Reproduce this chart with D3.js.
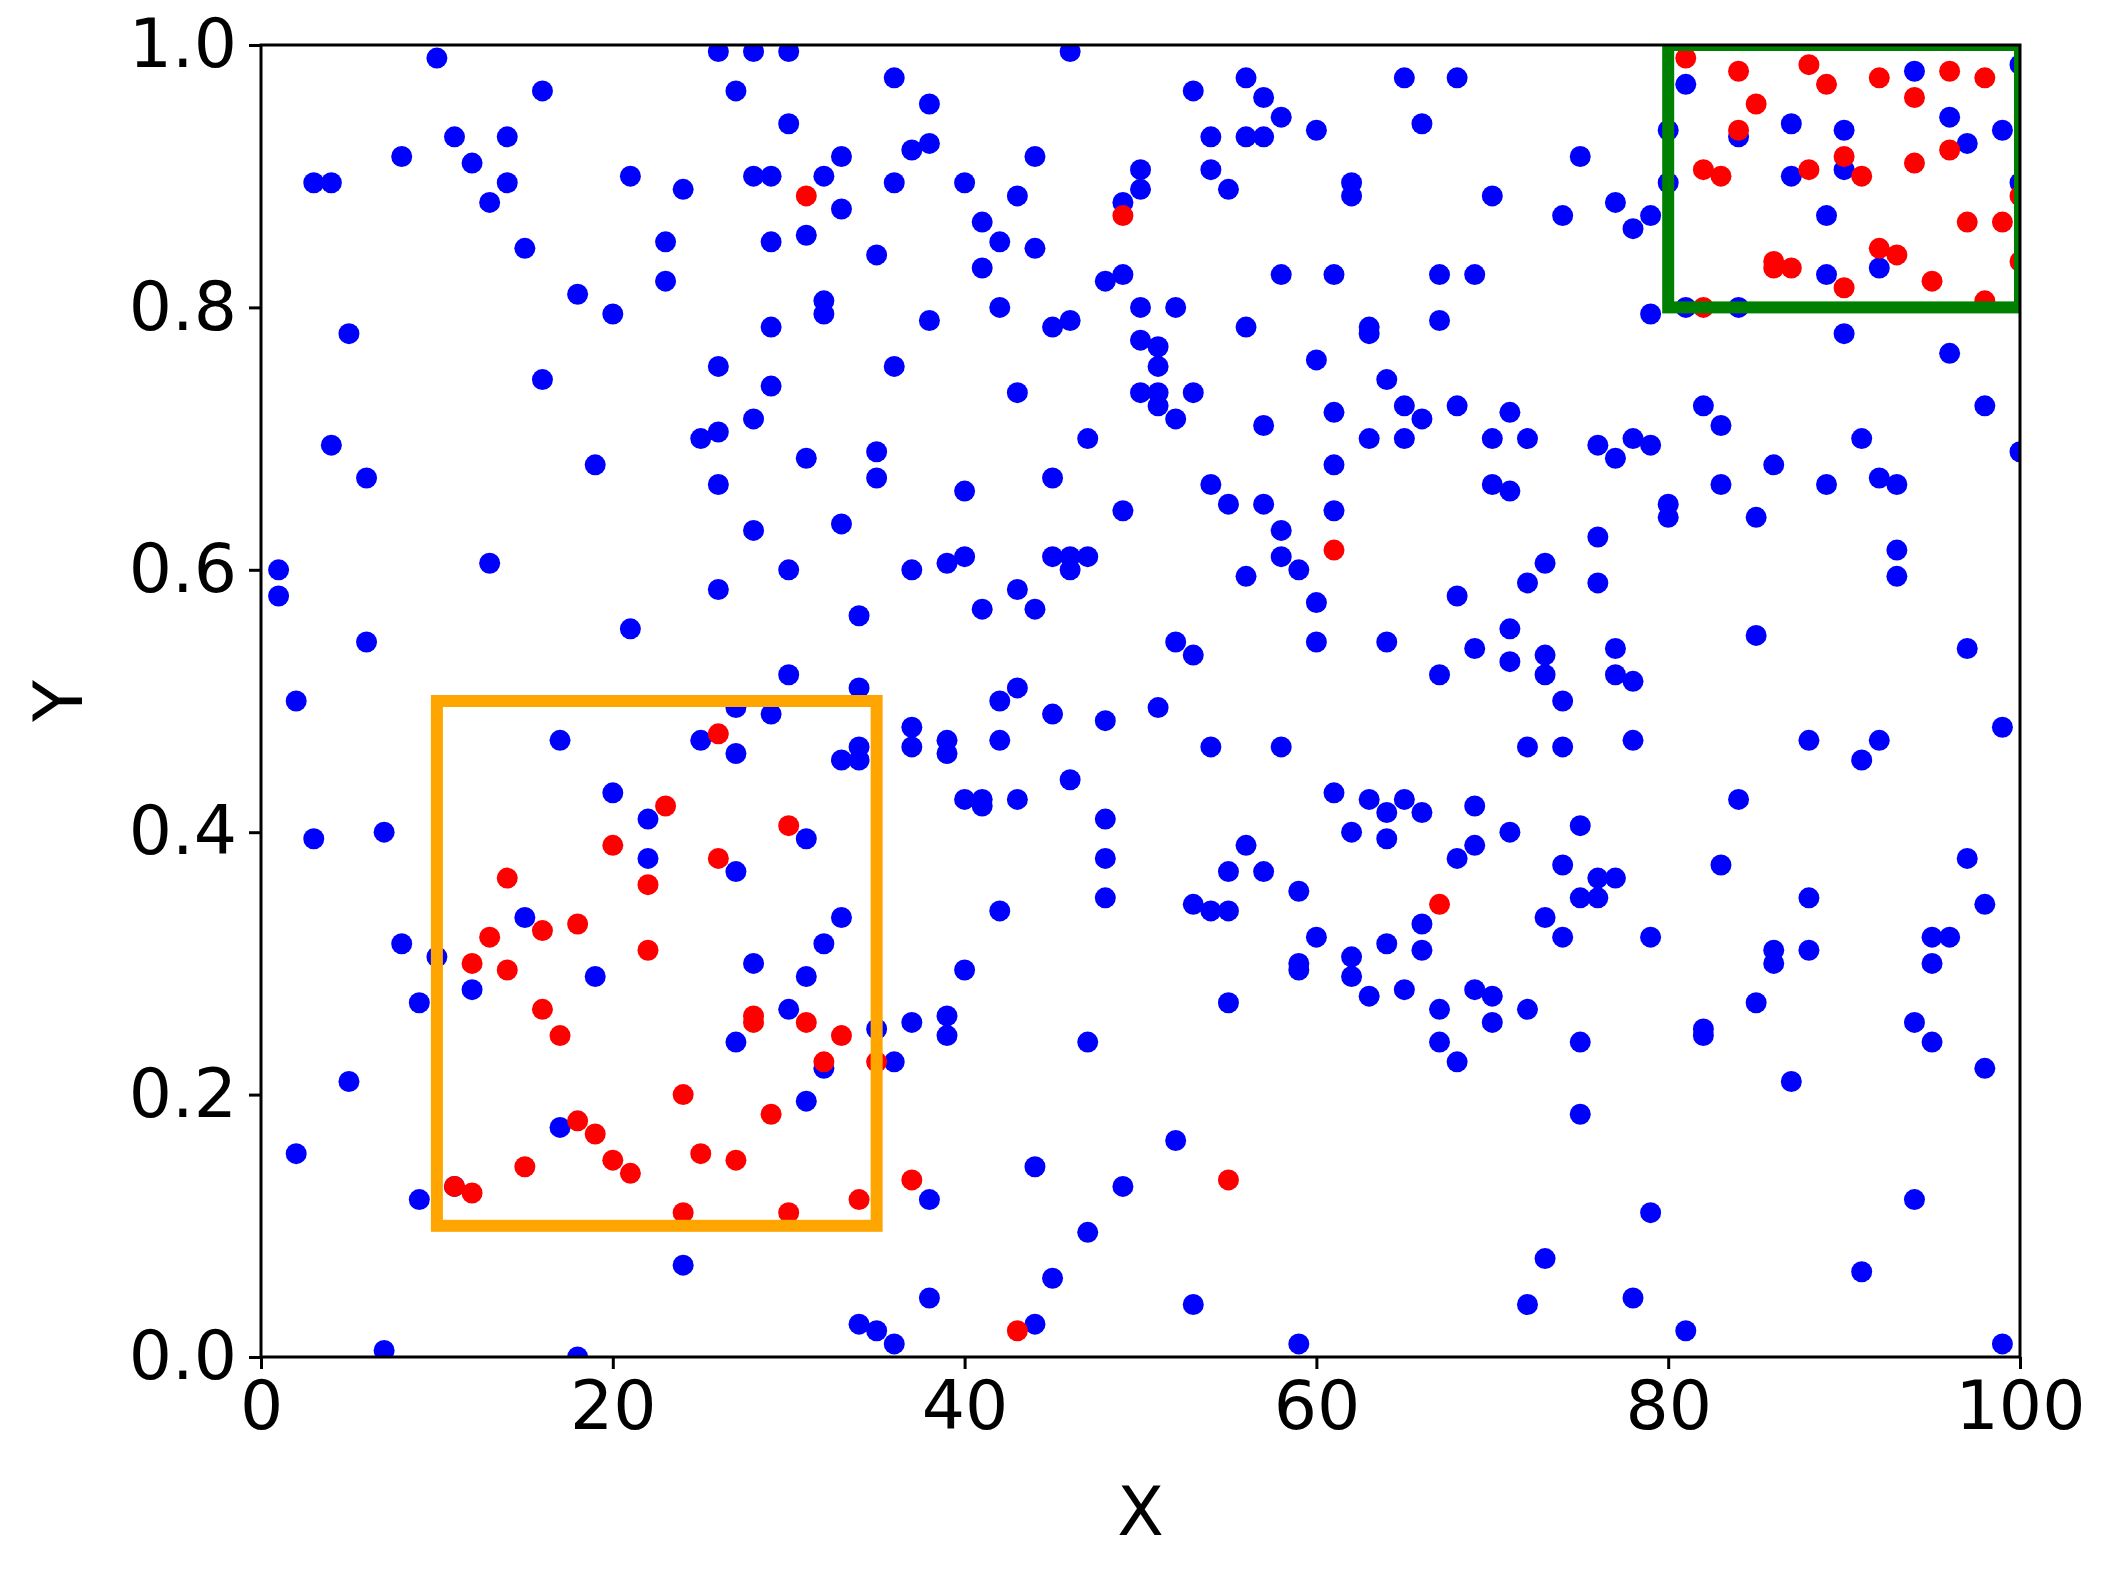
<!DOCTYPE html>
<html>
<head>
<meta charset="UTF-8">
<script src="https://cdn.jsdelivr.net/npm/d3@7"></script>
<style>body{margin:0;background:#fff}text{font-family:"DejaVu Sans",sans-serif}</style>
</head>
<body>
<script>
// blue points: [x, [y...]]
var blueCols = [
[1,[0.60,0.58]],[2,[0.50,0.155]],[3,[0.895,0.395]],[4,[0.895,0.695]],[5,[0.78,0.21]],
[6,[0.67,0.545]],[7,[0.40,0.005]],[8,[0.915,0.315]],[9,[0.27,0.12]],[10,[0.99,0.305]],
[11,[0.93,0.13]],[12,[0.91,0.28]],[13,[0.88,0.605]],[14,[0.93,0.895]],[15,[0.845,0.335]],
[16,[0.965,0.745]],[17,[0.47,0.175]],[18,[0.81,0.0]],[19,[0.68,0.29]],[20,[0.795,0.43]],
[21,[0.90,0.555]],[22,[0.41,0.38]],[23,[0.85,0.82]],[24,[0.89,0.07]],[25,[0.70,0.47]],
[26,[0.995,0.755,0.705,0.665,0.585]],[27,[0.965,0.46,0.37,0.24,0.495]],
[28,[0.995,0.90,0.715,0.63,0.30]],[29,[0.90,0.85,0.785,0.74,0.49]],
[30,[0.995,0.94,0.60,0.52,0.265]],[31,[0.855,0.685,0.395,0.29,0.195]],
[32,[0.90,0.805,0.795,0.315,0.22]],[33,[0.915,0.875,0.635,0.455,0.335]],
[34,[0.51,0.565,0.465,0.455,0.025]],[35,[0.84,0.69,0.67,0.25,0.02]],
[36,[0.975,0.895,0.755,0.225,0.01]],[37,[0.92,0.60,0.48,0.465,0.255]],
[38,[0.955,0.925,0.79,0.12,0.045]],[39,[0.605,0.47,0.46,0.26,0.245]],
[40,[0.895,0.66,0.61,0.425,0.295]],[41,[0.865,0.83,0.57,0.425,0.42]],
[42,[0.85,0.80,0.50,0.47,0.34]],[43,[0.885,0.735,0.585,0.51,0.425]],
[44,[0.915,0.845,0.57,0.145,0.025]],[45,[0.785,0.67,0.61,0.49,0.06]],
[46,[0.995,0.79,0.61,0.60,0.44]],[47,[0.70,0.61,0.24,0.095]],
[48,[0.82,0.485,0.41,0.38,0.35]],[49,[0.88,0.825,0.645,0.13]],
[50,[0.905,0.89,0.80,0.775,0.735]],[51,[0.77,0.755,0.735,0.725,0.495]],
[52,[0.80,0.715,0.545,0.165]],[53,[0.965,0.735,0.535,0.345,0.04]],
[54,[0.93,0.905,0.665,0.465,0.34]],[55,[0.89,0.65,0.37,0.34,0.27]],
[56,[0.975,0.93,0.785,0.595,0.39]],[57,[0.96,0.93,0.71,0.65,0.37]],
[58,[0.945,0.825,0.63,0.61,0.465]],[59,[0.60,0.355,0.30,0.295,0.01]],
[60,[0.935,0.76,0.575,0.545,0.32]],[61,[0.825,0.72,0.68,0.645,0.43]],
[62,[0.895,0.885,0.305,0.29,0.40]],[63,[0.785,0.78,0.70,0.425,0.275]],
[64,[0.745,0.545,0.415,0.395,0.315]],[65,[0.975,0.725,0.70,0.425,0.28]],
[66,[0.94,0.715,0.415,0.33,0.31]],[67,[0.825,0.79,0.52,0.265,0.24]],
[68,[0.975,0.725,0.58,0.38,0.225]],[69,[0.825,0.54,0.42,0.39,0.28]],
[70,[0.885,0.70,0.665,0.275,0.255]],[71,[0.72,0.66,0.555,0.53,0.40]],
[72,[0.70,0.59,0.465,0.265,0.04]],[73,[0.605,0.535,0.52,0.335,0.075]],
[74,[0.87,0.50,0.465,0.375,0.32]],[75,[0.915,0.405,0.35,0.24,0.185]],
[76,[0.695,0.625,0.59,0.365,0.35]],[77,[0.88,0.685,0.54,0.52,0.365]],
[78,[0.86,0.70,0.515,0.47,0.045]],[79,[0.87,0.795,0.695,0.32,0.11]],
[80,[0.935,0.895,0.65,0.64]],[81,[0.97,0.80,0.02]],[82,[0.725,0.25,0.245]],
[83,[0.71,0.665,0.375]],[84,[0.93,0.80,0.425]],[85,[0.64,0.55,0.27]],
[86,[0.68,0.31,0.30]],[87,[0.94,0.90,0.21]],[88,[0.47,0.35,0.31]],
[89,[0.87,0.825,0.665]],[90,[0.935,0.905,0.78]],[91,[0.70,0.455,0.065]],
[92,[0.83,0.67,0.47]],[93,[0.665,0.615,0.595]],[94,[0.98,0.255,0.12]],
[95,[0.32,0.30,0.24]],[96,[0.945,0.765,0.32]],[97,[0.925,0.54,0.38]],
[98,[0.725,0.345,0.22]],[99,[0.935,0.48,0.01]],[100,[0.985,0.895,0.69]]
];
var redX = [11,12,12,13,14,14,15,16,16,17,18,18,19,20,20,21,22,22,23,24,24,25,26,26,27,28,28,29,30,30,31,32,33,34,35,37,
  31,49,61,67,55,43,
  81,82,82,83,84,84,85,86,86,87,88,88,89,90,90,91,92,92,93,94,94,95,96,96,97,98,98,99,100,100];
var redY = [0.13,0.30,0.125,0.32,0.365,0.295,0.145,0.325,0.265,0.245,0.33,0.18,0.17,0.39,0.15,0.14,0.36,0.31,0.42,0.20,0.11,0.155,0.475,0.38,0.15,0.26,0.255,0.185,0.405,0.11,0.255,0.225,0.245,0.12,0.225,0.135,
  0.885,0.87,0.615,0.345,0.135,0.02,
  0.99,0.905,0.80,0.90,0.98,0.935,0.955,0.835,0.83,0.83,0.985,0.905,0.97,0.915,0.815,0.90,0.975,0.845,0.84,0.96,0.91,0.82,0.98,0.92,0.865,0.975,0.805,0.865,0.885,0.835];
var xTicks = [0,20,40,60,80,100];
var yTicks = [0,0.2,0.4,0.6,0.8,1.0];
// boxes: [x0, x1, y0, y1, colour]
var boxes = [[10,35,0.1,0.5,"#ffa500"],[80,100,0.8,1.0,"#008000"]];

var W = 2101, H = 1571, L = 261, R = 2020, T = 45, B = 1357;
var svg = d3.select("body").append("svg").attr("width", W).attr("height", H);
var x = d3.scaleLinear().domain([0,100]).range([L,R]);
var y = d3.scaleLinear().domain([0,1]).range([B,T]);

svg.append("clipPath").attr("id","clip").append("rect")
  .attr("x",L).attr("y",T).attr("width",R-L).attr("height",B-T);
var g = svg.append("g").attr("clip-path","url(#clip)");

var blue = [];
blueCols.forEach(function(c){ c[1].forEach(function(v){ blue.push([c[0],v]); }); });
var red = redX.map(function(d,i){ return [d, redY[i]]; });

g.selectAll(".b").data(blue).enter().append("circle")
  .attr("cx",function(d){return x(d[0]);}).attr("cy",function(d){return y(d[1]);})
  .attr("r",10.5).attr("fill","#0000ff");
g.selectAll(".r").data(red).enter().append("circle")
  .attr("cx",function(d){return x(d[0]);}).attr("cy",function(d){return y(d[1]);})
  .attr("r",10.5).attr("fill","#ff0000");
g.selectAll(".box").data(boxes).enter().append("rect")
  .attr("x",function(d){return x(d[0]);}).attr("y",function(d){return y(d[3]);})
  .attr("width",function(d){return x(d[1])-x(d[0]);})
  .attr("height",function(d){return y(d[2])-y(d[3]);})
  .attr("fill","none").attr("stroke",function(d){return d[4];}).attr("stroke-width",12);

svg.append("rect").attr("x",L).attr("y",T).attr("width",R-L).attr("height",B-T)
  .attr("fill","none").attr("stroke","#000").attr("stroke-width",3);

var xa = svg.append("g").attr("transform","translate(0,"+B+")")
  .call(d3.axisBottom(x).tickValues(xTicks).tickSize(12).tickPadding(12).tickFormat(d3.format("d")));
var ya = svg.append("g").attr("transform","translate("+L+",0)")
  .call(d3.axisLeft(y).tickValues(yTicks).tickSize(12).tickPadding(12).tickFormat(d3.format(".1f")));
[xa,ya].forEach(function(a){
  a.select(".domain").remove();
  a.selectAll("line").attr("stroke-width",3);
  a.selectAll("text").attr("font-size",68).attr("fill","#000").attr("font-family","DejaVu Sans");
});
svg.append("text").attr("x",(L+R)/2).attr("y",1535).attr("text-anchor","middle")
  .attr("font-size",68).text("X");
svg.append("text").attr("transform","translate(82,"+((T+B)/2)+") rotate(-90)")
  .attr("text-anchor","middle").attr("font-size",68).text("Y");
</script>
</body>
</html>
